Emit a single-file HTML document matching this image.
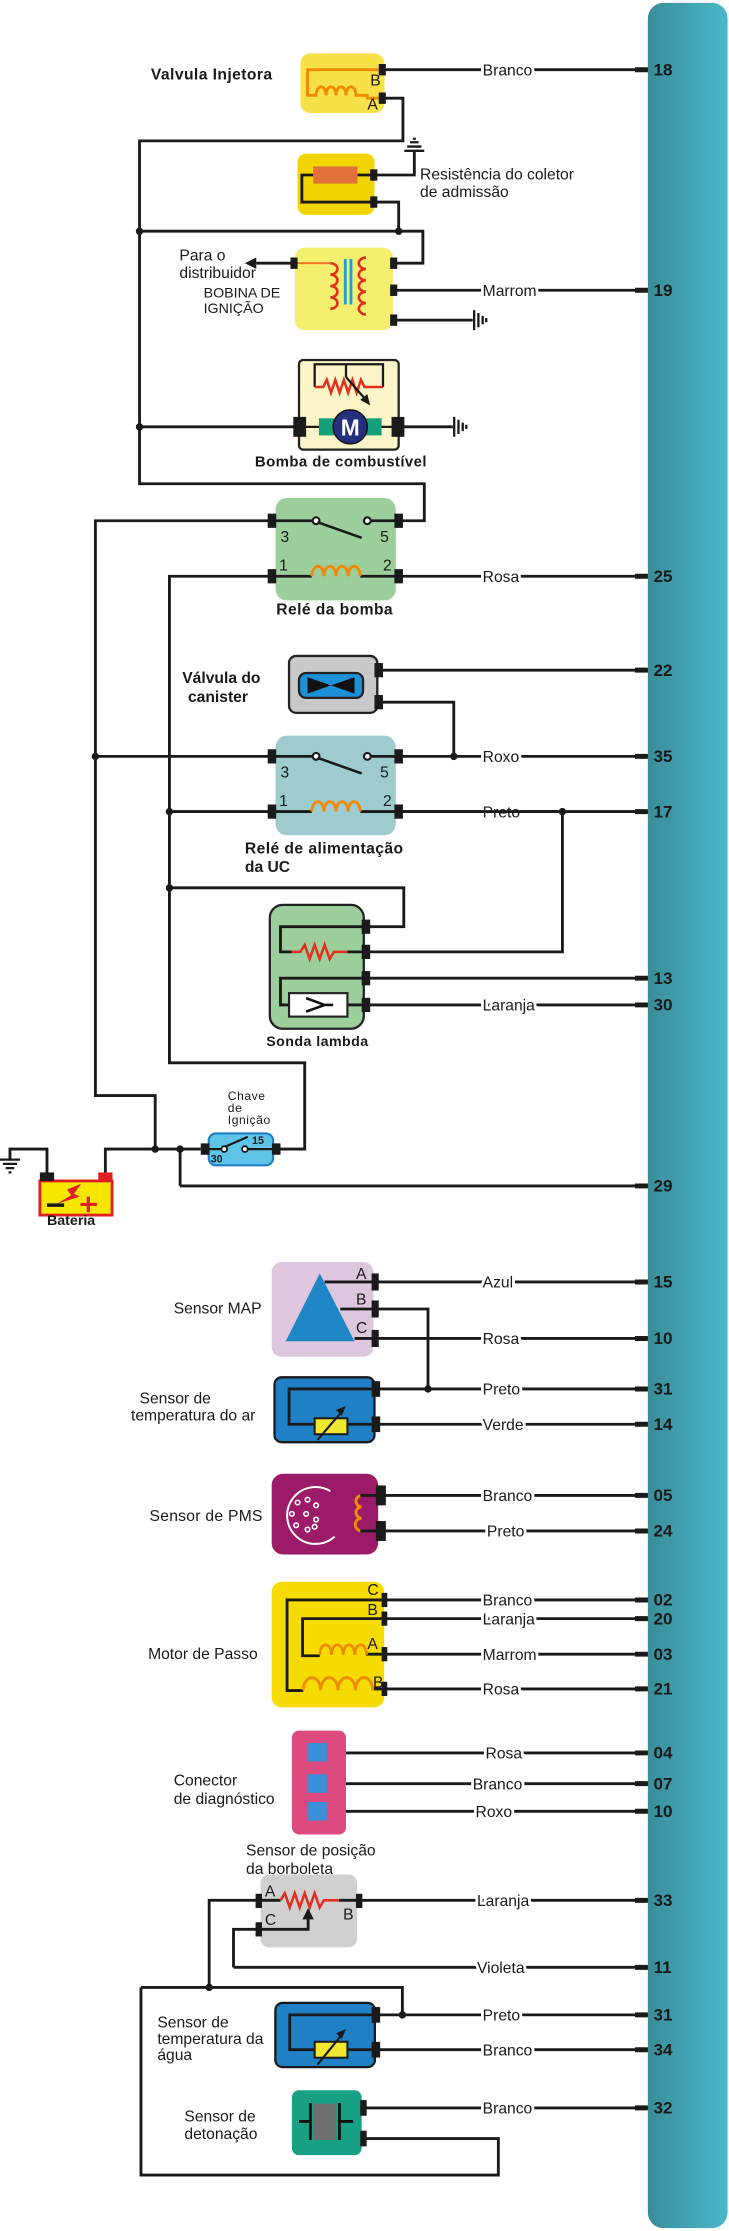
<!DOCTYPE html>
<html><head><meta charset="utf-8"><style>
html,body{margin:0;padding:0;background:#fff;}
svg{display:block;}
text{font-family:"Liberation Sans",sans-serif;fill:#1a1a1a;}
.b{font-weight:bold;}
.n{font-weight:bold;font-size:12px;}
.w{font-size:11px;stroke:#fff;stroke-width:4;paint-order:stroke;}
.l{font-size:11px;}
.wire{stroke:#1a1a1a;stroke-width:2;fill:none;}
.thin{stroke:#1a1a1a;stroke-width:1.6;fill:none;}
.coil{stroke:#f08a00;stroke-width:2;fill:none;}
.red{stroke:#e03020;stroke-width:1.8;fill:none;}
</style></head><body>
<svg width="729" height="2231" viewBox="0 0 512 1568" preserveAspectRatio="none" xmlns="http://www.w3.org/2000/svg">
<defs>
<linearGradient id="bar" x1="0" x2="1" y1="0" y2="0">
<stop offset="0" stop-color="#3a8d9a"/><stop offset="1" stop-color="#4ab8c9"/>
</linearGradient>
</defs>
<rect x="455" y="2" width="56" height="1564" rx="11" fill="url(#bar)"/>

<!-- wires to bar with labels -->
<g class="wire">
<path d="M268 49H455"/><path d="M278 204H455"/><path d="M280 405H455"/><path d="M265 471H455"/>
<path d="M280 531.6H455"/><path d="M280 570.4H455"/><path d="M258 687.5H455"/><path d="M258 706.3H455"/>
<path d="M126.5 833.5H455"/><path d="M264 901H455"/><path d="M264 940.7H455"/><path d="M265 976.2H455"/>
<path d="M265 1001H455"/><path d="M268 1051H455"/><path d="M268 1076H455"/><path d="M270 1124.5H455"/>
<path d="M270 1137.6H455"/><path d="M270 1162.6H455"/><path d="M270 1187H455"/><path d="M229 1232H455"/>
<path d="M229 1253.6H455"/><path d="M229 1273H455"/><path d="M252 1335.6H455"/><path d="M164 1382.7H455"/>
<path d="M265 1416.1H455"/><path d="M265 1440.6H455"/><path d="M256 1481.5H455"/>
</g>
<g stroke="#1a1a1a" stroke-width="3.5">
<path d="M446 49H455M446 204H455M446 405H455M446 471H455M446 531.6H455M446 570.4H455M446 687.5H455M446 706.3H455M446 833.5H455M446 901H455M446 940.7H455M446 976.2H455M446 1001H455M446 1051H455M446 1076H455M446 1124.5H455M446 1137.6H455M446 1162.6H455M446 1187H455M446 1232H455M446 1253.6H455M446 1273H455M446 1335.6H455M446 1382.7H455M446 1416.1H455M446 1440.6H455M446 1481.5H455"/>
</g>
<g class="w">
<text x="339" y="53">Branco</text><text x="339" y="208">Marrom</text><text x="339" y="409">Rosa</text>
<text x="339" y="535.6">Roxo</text><text x="339" y="574.4">Preto</text><text x="339" y="710.3">Laranja</text>
<text x="339" y="905">Azul</text><text x="339" y="944.7">Rosa</text><text x="339" y="980.2">Preto</text>
<text x="339" y="1005">Verde</text><text x="339" y="1055">Branco</text><text x="342" y="1080">Preto</text>
<text x="339" y="1128.5">Branco</text><text x="339" y="1141.6">Laranja</text><text x="339" y="1166.6">Marrom</text>
<text x="339" y="1191">Rosa</text><text x="341" y="1236">Rosa</text><text x="332" y="1257.6">Branco</text>
<text x="334" y="1277">Roxo</text><text x="335" y="1339.6">Laranja</text><text x="335" y="1386.7">Violeta</text>
<text x="339" y="1420.1">Preto</text><text x="339" y="1444.6">Branco</text><text x="339" y="1485.5">Branco</text>
</g>
<g class="n">
<text x="459" y="53">18</text><text x="459" y="208">19</text><text x="459" y="409">25</text><text x="459" y="475">22</text>
<text x="459" y="535.6">35</text><text x="459" y="574.4">17</text><text x="459" y="691.5">13</text><text x="459" y="710.3">30</text>
<text x="459" y="837.5">29</text><text x="459" y="905">15</text><text x="459" y="944.7">10</text><text x="459" y="980.2">31</text>
<text x="459" y="1005">14</text><text x="459" y="1055">05</text><text x="459" y="1080">24</text><text x="459" y="1128.5">02</text>
<text x="459" y="1141.6">20</text><text x="459" y="1166.6">03</text><text x="459" y="1191">21</text><text x="459" y="1236">04</text>
<text x="459" y="1257.6">07</text><text x="459" y="1277">10</text><text x="459" y="1339.6">33</text><text x="459" y="1386.7">11</text>
<text x="459" y="1420.1">31</text><text x="459" y="1444.6">34</text><text x="459" y="1485.5">32</text>
</g>

<!-- Top wiring network -->
<g class="wire">
<path d="M268 69H283V99H98V340H298V366H280"/>
<path d="M263 123H291V106"/>
<path d="M263 142H280V162.5"/>
<path d="M98 162.5H297V185H276"/>
<path d="M98 300H210"/>
<path d="M280 300H318"/>
<path d="M278 225H332"/>
<path d="M207 185H180"/>
</g>
<!-- grounds -->
<g stroke="#1a1a1a" stroke-width="1.6">
<path d="M284 106H298M286 103H296M288 100H294M290 97.5H292"/>
<path d="M333 218V232M336 220V230M339 222V228M341.5 223.5V226.5"/>
<path d="M319 293V307M322 295V305M325 297V303M327.5 298.5V301.5"/>
<path d="M0 815H14M2 818H12M4 821H10M6 824H8"/>
</g>
<polygon points="172,185 180,181 180,189" fill="#1a1a1a"/>
<g fill="#1a1a1a"><circle cx="98" cy="162.5" r="2.6"/><circle cx="280" cy="162.5" r="2.6"/><circle cx="98" cy="300" r="2.6"/></g>

<!-- Injector -->
<rect x="211" y="37.5" width="59" height="42" rx="7" fill="#f7e048"/>
<path class="coil" d="M266 49H216V67H222a3.5 6 0 0 1 7 0a3.5 6 0 0 1 7 0a3.5 6 0 0 1 7 0a3.5 6 0 0 1 7 0H258V69H266"/>
<rect x="266" y="45" width="5" height="8" fill="#1a1a1a"/><rect x="266" y="65" width="5" height="8" fill="#1a1a1a"/>
<text x="260" y="60" class="l">B</text><text x="258" y="77" class="l">A</text>
<text x="106" y="56" class="b" style="font-size:11px;letter-spacing:.3px">Valvula Injetora</text>

<!-- Resistance -->
<rect x="209" y="108" width="54" height="43" rx="6" fill="#f2d500"/>
<path class="wire" d="M251 123H261M220 123H212V142H261"/>
<rect x="220" y="117" width="31" height="12" fill="#e2703a"/>
<rect x="260" y="119" width="5" height="8" fill="#1a1a1a"/><rect x="260" y="138" width="5" height="8" fill="#1a1a1a"/>
<text x="295" y="126" class="l">Resistência do coletor</text><text x="295" y="138.5" class="l">de admissão</text>

<!-- Bobina -->
<rect x="207" y="174" width="69" height="58" rx="7" fill="#f4ef6e"/>
<path d="M209 185H232" stroke="#f07020" stroke-width="1.3" fill="none"/>
<path class="red" d="M232 185a5 4 0 0 1 0 8a5 4 0 0 1 0 8a5 4 0 0 1 0 8a5 4 0 0 1 0 8"/>
<path class="red" d="M257 181a5 4 0 0 0 0 8a5 4 0 0 0 0 8a5 4 0 0 0 0 8a5 4 0 0 0 0 8a5 4 0 0 0 0 8"/>
<path d="M242.5 182V214M246.5 182V214" stroke="#1aa0d8" stroke-width="2"/>
<rect x="204" y="181" width="5" height="8" fill="#1a1a1a"/>
<rect x="274" y="181" width="5" height="8" fill="#1a1a1a"/><rect x="274" y="200" width="5" height="8" fill="#1a1a1a"/><rect x="274" y="221" width="5" height="8" fill="#1a1a1a"/>
<text x="126" y="183" class="l">Para o</text><text x="126" y="195.5" class="l">distribuidor</text>
<text x="143" y="209" style="font-size:10px">BOBINA DE</text><text x="143" y="220" style="font-size:10px">IGNIÇÃO</text>

<!-- Pump -->
<rect x="210" y="253" width="70" height="63" rx="3" fill="#fbf5c8" stroke="#222" stroke-width="1.6"/>
<path class="thin" d="M221 272V256H269V272M243 256V265"/>
<path class="red" d="M221 272H227l2.5 -5l3 9l3 -9l3 9l3 -9l3 9l3 -9l3 9l3 -9l2.5 5H269"/>
<path d="M243 265L257 281" stroke="#1a1a1a" stroke-width="1.6"/>
<polygon points="260,285 253,281 258,277" fill="#1a1a1a"/>
<path class="thin" d="M212 300H278"/>
<rect x="224" y="294" width="44" height="12" fill="#14a07a"/>
<circle cx="246" cy="300" r="12" fill="#24307e" stroke="#111" stroke-width="1"/>
<text x="246" y="306" text-anchor="middle" style="font-size:16px;font-weight:bold;fill:#fff">M</text>
<rect x="206" y="293" width="9" height="14" fill="#1a1a1a"/><rect x="275" y="293" width="9" height="14" fill="#1a1a1a"/>
<text x="179" y="328" class="b" style="font-size:10.5px;letter-spacing:.3px">Bomba de combustível</text>

<!-- Relé da bomba -->
<rect x="193.5" y="350" width="84.5" height="72" rx="8" fill="#9ccf9c"/>
<path class="wire" d="M193 366H220M260 366H278M193 405H219M253 405H278"/>
<circle cx="222" cy="366" r="2.4" fill="#fff" stroke="#1a1a1a" stroke-width="1.5"/><circle cx="258" cy="366" r="2.4" fill="#fff" stroke="#1a1a1a" stroke-width="1.5"/>
<path d="M223 367L254 378" stroke="#1a1a1a" stroke-width="1.8"/>
<path class="coil" d="M219 405a4.25 7 0 0 1 8.5 0a4.25 7 0 0 1 8.5 0a4.25 7 0 0 1 8.5 0a4.25 7 0 0 1 8.5 0"/>
<rect x="188" y="361" width="6" height="10" fill="#1a1a1a"/><rect x="277" y="361" width="6" height="10" fill="#1a1a1a"/>
<rect x="188" y="400" width="6" height="10" fill="#1a1a1a"/><rect x="277" y="400" width="6" height="10" fill="#1a1a1a"/>
<text x="197" y="381" class="l">3</text><text x="267" y="381" class="l">5</text><text x="196" y="401" class="l">1</text><text x="269" y="401" class="l">2</text>
<text x="194" y="432" class="b" style="font-size:11px;letter-spacing:.3px">Relé da bomba</text>

<!-- left long wires -->
<g class="wire">
<path d="M190 366H67V770H109V807.6"/>
<path d="M190 405H119V747H214V807.6H196"/>
<path d="M67 531.6H190"/>
<path d="M119 570.4H190"/>
<path d="M119 624H283.6V651.3H258"/>
<path d="M265 493.5H318.7V531.6"/>
<path d="M280 570.4H395"/>
<path d="M395 570.4V669H258"/>
</g>
<g fill="#1a1a1a"><circle cx="67" cy="531.6" r="2.6"/><circle cx="318.7" cy="531.6" r="2.6"/><circle cx="119" cy="570.4" r="2.6"/><circle cx="395" cy="570.4" r="2.6"/><circle cx="119" cy="624" r="2.6"/></g>

<!-- Canister -->
<rect x="203" y="461" width="62" height="40" rx="5" fill="#c9c9c9" stroke="#222" stroke-width="1.6"/>
<rect x="210" y="473" width="45" height="17.5" rx="5" fill="#1e90d8" stroke="#222" stroke-width="1.6"/>
<polygon points="216,476 232.5,481.7 249,476 249,487.5 232.5,481.7 216,487.5" fill="#111"/>
<rect x="263" y="466" width="6" height="10" fill="#1a1a1a"/><rect x="263" y="488.5" width="6" height="10" fill="#1a1a1a"/>
<text x="128" y="480" class="b" style="font-size:11px">Válvula do</text><text x="132" y="493.5" class="b" style="font-size:11px">canister</text>

<!-- Relé UC -->
<rect x="193.5" y="517" width="84.5" height="70" rx="8" fill="#9ecbcf"/>
<path class="wire" d="M193 531.6H220M260 531.6H278M193 570.4H219M253 570.4H278"/>
<circle cx="222" cy="531.6" r="2.4" fill="#fff" stroke="#1a1a1a" stroke-width="1.5"/><circle cx="258" cy="531.6" r="2.4" fill="#fff" stroke="#1a1a1a" stroke-width="1.5"/>
<path d="M223 532.6L254 543.6" stroke="#1a1a1a" stroke-width="1.8"/>
<path class="coil" d="M219 570.4a4.25 7 0 0 1 8.5 0a4.25 7 0 0 1 8.5 0a4.25 7 0 0 1 8.5 0a4.25 7 0 0 1 8.5 0"/>
<rect x="188" y="526.6" width="6" height="10" fill="#1a1a1a"/><rect x="277" y="526.6" width="6" height="10" fill="#1a1a1a"/>
<rect x="188" y="565.4" width="6" height="10" fill="#1a1a1a"/><rect x="277" y="565.4" width="6" height="10" fill="#1a1a1a"/>
<text x="197" y="546.5" class="l">3</text><text x="267" y="546.5" class="l">5</text><text x="196" y="566.5" class="l">1</text><text x="269" y="566.5" class="l">2</text>
<text x="172" y="600" class="b" style="font-size:11px;letter-spacing:.3px">Relé de alimentação</text>
<text x="172" y="613" class="b" style="font-size:11px">da UC</text>

<!-- Sonda lambda -->
<rect x="189.5" y="636" width="66" height="87" rx="9" fill="#9ccf9c" stroke="#222" stroke-width="1.6"/>
<path class="wire" d="M256 651.3H197V669H205M244 669H256M256 687.5H197V706.3H203M244 706.3H256"/>
<path class="red" d="M205 669H211l3 -5l3.5 10l3.5 -10l3.5 10l3.5 -10l3.5 10l3 -5H244"/>
<rect x="203" y="698" width="41" height="16.5" fill="#fff" stroke="#222" stroke-width="1.5"/>
<path d="M215 701.5L228 706.3L215 711M228 706.3H234" stroke="#111" stroke-width="1.8" fill="none"/>
<rect x="254" y="646.3" width="6" height="10" fill="#1a1a1a"/><rect x="254" y="664" width="6" height="10" fill="#1a1a1a"/>
<rect x="254" y="682.5" width="6" height="10" fill="#1a1a1a"/><rect x="254" y="701.3" width="6" height="10" fill="#1a1a1a"/>
<text x="187" y="735" style="font-size:10px;font-weight:bold;letter-spacing:.3px">Sonda lambda</text>

<!-- Ignition switch & battery -->
<text x="160" y="773" style="font-size:8.5px;letter-spacing:.4px">Chave</text>
<text x="160" y="781.5" style="font-size:8.5px;letter-spacing:.4px">de</text>
<text x="160" y="790" style="font-size:8.5px;letter-spacing:.4px">Ignição</text>
<rect x="146.6" y="796.6" width="45.2" height="22.4" rx="5" fill="#5ec4e8" stroke="#1e7fc8" stroke-width="1.5"/>
<path class="thin" d="M146 807.6H155M172 807.6H193"/>
<circle cx="157.5" cy="807.6" r="2" fill="#fff" stroke="#1a1a1a" stroke-width="1.3"/><circle cx="172" cy="807.6" r="2" fill="#fff" stroke="#1a1a1a" stroke-width="1.3"/>
<path d="M158 806L174 799" stroke="#1a1a1a" stroke-width="1.5"/>
<text x="148" y="817" style="font-size:7.5px;font-weight:bold">30</text><text x="177" y="804" style="font-size:7.5px;font-weight:bold">15</text>
<rect x="141" y="803.6" width="6" height="8" fill="#1a1a1a"/><rect x="191" y="803.6" width="6" height="8" fill="#1a1a1a"/>
<path class="wire" d="M74 828V807.6H141M126.5 807.6V833.5M33 828V807.6H7V815"/>
<g fill="#1a1a1a"><circle cx="109" cy="807.6" r="2.6"/><circle cx="126.5" cy="807.6" r="2.6"/></g>
<rect x="28" y="830" width="50.7" height="24" fill="#f7e600" stroke="#e02020" stroke-width="2"/>
<rect x="28" y="824" width="10" height="6" fill="#1a1a1a"/><rect x="69" y="824" width="10" height="6" fill="#e02020"/>
<path d="M33 847H45" stroke="#1a1a1a" stroke-width="2.5"/>
<path d="M62 841V852M56.5 846.5H68" stroke="#e02020" stroke-width="2.2"/>
<path d="M40 846L50 840L47 836L57 832L52 839L56 841Z" fill="#e02020"/>
<text x="33" y="861" style="font-size:10px;font-weight:bold">Bateria</text>

<!-- MAP -->
<rect x="190.8" y="887" width="71.5" height="66.6" rx="7" fill="#dfc6df"/>
<polygon points="224.6,895 200.7,942.7 249,942.7" fill="#1f86c6"/>
<path class="wire" d="M228 901H262M239 920H262M249 940.7H262"/>
<path class="wire" d="M264 920H300.6V976.2"/>
<circle cx="300.6" cy="976.2" r="2.6" fill="#1a1a1a"/>
<rect x="261" y="895" width="5" height="12" fill="#1a1a1a"/><rect x="261" y="914" width="5" height="12" fill="#1a1a1a"/><rect x="261" y="934.7" width="5" height="12" fill="#1a1a1a"/>
<text x="250" y="899" class="l">A</text><text x="250" y="917" class="l">B</text><text x="250" y="937" class="l">C</text>
<text x="122" y="923" class="l">Sensor MAP</text>

<!-- Air temp -->
<rect x="192.8" y="968" width="70.2" height="45.6" rx="5" fill="#1f80c6" stroke="#1a1a1a" stroke-width="1.6"/>
<path class="wire" d="M262 976.2H203V1001H221M244 1001H262"/>
<rect x="221" y="996.8" width="23" height="11.2" fill="#f0e830" stroke="#1a1a1a" stroke-width="1.4"/>
<path d="M223 1012L241 991" stroke="#1a1a1a" stroke-width="1.5"/><polygon points="243,988 240,995 236,991" fill="#1a1a1a"/>
<rect x="261" y="970.7" width="6" height="11" fill="#1a1a1a"/><rect x="261" y="995.5" width="6" height="11" fill="#1a1a1a"/>
<text x="98" y="986.5" class="l">Sensor de</text><text x="92" y="998.5" class="l">temperatura  do ar</text>

<!-- PMS -->
<rect x="190.8" y="1035.8" width="74.8" height="56.7" rx="8" fill="#9b1b68"/>
<path d="M232 1048A20 20 0 1 0 235 1080" stroke="#fff" stroke-width="1.4" fill="none"/>
<g fill="none" stroke="#fff" stroke-width="1.1">
<circle cx="209" cy="1056" r="1.6"/><circle cx="216" cy="1054" r="1.6"/><circle cx="222" cy="1058" r="1.6"/><circle cx="205" cy="1064" r="1.6"/>
<circle cx="215" cy="1064" r="1.6"/><circle cx="222" cy="1068" r="1.6"/><circle cx="208" cy="1072" r="1.6"/><circle cx="216" cy="1075" r="1.6"/><circle cx="221" cy="1073" r="1.6"/>
</g>
<path class="coil" d="M254 1051a4 4 0 0 0 0 8a4 4 0 0 0 0 8a4 4 0 0 0 0 9"/>
<path class="wire" d="M253 1051H266M253 1076H266"/>
<rect x="264" y="1044" width="7" height="14" fill="#1a1a1a"/><rect x="264" y="1069" width="7" height="14" fill="#1a1a1a"/>
<text x="105" y="1069" class="l" style="letter-spacing:.2px">Sensor de PMS</text>

<!-- Motor de passo -->
<rect x="190.8" y="1111.7" width="79" height="88.3" rx="7" fill="#f5db00"/>
<path class="wire" d="M268 1124.5H201.6V1188.2H213M268 1137.6H212.5V1163.7H224.6M257 1162.6H268M262 1187H268"/>
<path class="coil" d="M224.6 1163a4.1 7 0 0 1 8.2 0a4.1 7 0 0 1 8.2 0a4.1 7 0 0 1 8.2 0a4.1 7 0 0 1 8.2 0"/>
<path class="coil" d="M213 1188a6.1 9 0 0 1 12.2 0a6.1 9 0 0 1 12.2 0a6.1 9 0 0 1 12.2 0a6.1 9 0 0 1 12.2 0"/>
<rect x="268" y="1119.5" width="4" height="10" fill="#1a1a1a"/><rect x="268" y="1132.6" width="4" height="10" fill="#1a1a1a"/>
<rect x="268" y="1157.6" width="4" height="10" fill="#1a1a1a"/><rect x="268" y="1182" width="4" height="10" fill="#1a1a1a"/>
<text x="258" y="1121" class="l">C</text><text x="258" y="1135" class="l">B</text><text x="258" y="1159" class="l">A</text><text x="262" y="1186" class="l">B</text>
<text x="104" y="1166" class="l">Motor de Passo</text>

<!-- Diag -->
<rect x="205" y="1216.3" width="38" height="73" rx="5" fill="#dc4a80"/>
<rect x="216" y="1225" width="13.5" height="13" fill="#3a8fd6"/><rect x="216" y="1247" width="13.5" height="13" fill="#3a8fd6"/><rect x="216" y="1266.5" width="13.5" height="13" fill="#3a8fd6"/>
<text x="122" y="1255" class="l">Conector</text><text x="122" y="1268" class="l">de diagnóstico</text>

<!-- TPS -->
<text x="172.8" y="1304" class="l">Sensor de posição</text><text x="172.8" y="1317" class="l">da borboleta</text>
<rect x="183" y="1317.4" width="67.8" height="51.3" rx="6" fill="#d0d0d0"/>
<path class="wire" d="M183 1335.6H197M238 1335.6H252M183 1356H216.4V1347"/>
<path class="red" d="M197 1335.6l3 -5l3.5 10l3.5 -10l3.5 10l3.5 -10l3.5 10l3.5 -10l3.5 10l3 -5H238"/>
<polygon points="216.4,1341 212.4,1349 220.4,1349" fill="#1a1a1a"/>
<rect x="179.5" y="1331" width="4.5" height="10" fill="#1a1a1a"/><rect x="250" y="1331" width="4.5" height="10" fill="#1a1a1a"/><rect x="179.5" y="1351" width="4.5" height="10" fill="#1a1a1a"/>
<text x="186" y="1333" class="l">A</text><text x="241" y="1349" class="l">B</text><text x="186" y="1353" class="l">C</text>
<path class="wire" d="M180 1335.6H146.9V1396.8M180 1356H164V1382.7"/>

<!-- bottom loop -->
<path class="wire" d="M99 1396.8H282.6V1416.1M99 1396.8V1528.7H350V1503H256"/>
<g fill="#1a1a1a"><circle cx="146.9" cy="1396.8" r="2.6"/><circle cx="282.6" cy="1416.1" r="2.6"/></g>

<!-- Water temp -->
<rect x="193.4" y="1407.7" width="69.9" height="45.1" rx="5" fill="#1f80c6" stroke="#1a1a1a" stroke-width="1.6"/>
<path class="wire" d="M262 1416.1H203.5V1440.6H221M244 1440.6H262"/>
<rect x="221" y="1435" width="23" height="11.2" fill="#f0e830" stroke="#1a1a1a" stroke-width="1.4"/>
<path d="M223 1451L241 1429" stroke="#1a1a1a" stroke-width="1.5"/><polygon points="243,1426 240,1433 236,1429" fill="#1a1a1a"/>
<rect x="261" y="1410.6" width="6" height="11" fill="#1a1a1a"/><rect x="261" y="1435.1" width="6" height="11" fill="#1a1a1a"/>
<text x="110.5" y="1425" class="l">Sensor de</text><text x="110.5" y="1436.5" class="l">temperatura da</text><text x="110.5" y="1448" class="l">água</text>

<!-- Knock -->
<rect x="205" y="1469.1" width="49" height="45.6" rx="5" fill="#17a083"/>
<rect x="220" y="1478.5" width="16" height="25.5" fill="#6f6f6f"/>
<path d="M218 1478V1504M238.4 1478V1504M210 1491H218M238.4 1491H248" stroke="#111" stroke-width="2"/>
<rect x="253" y="1476" width="4.5" height="11" fill="#1a1a1a"/><rect x="253" y="1497.5" width="4.5" height="11" fill="#1a1a1a"/>
<text x="129.5" y="1491" class="l">Sensor de</text><text x="129.5" y="1503.5" class="l">detonação</text>
</svg>
</body></html>
